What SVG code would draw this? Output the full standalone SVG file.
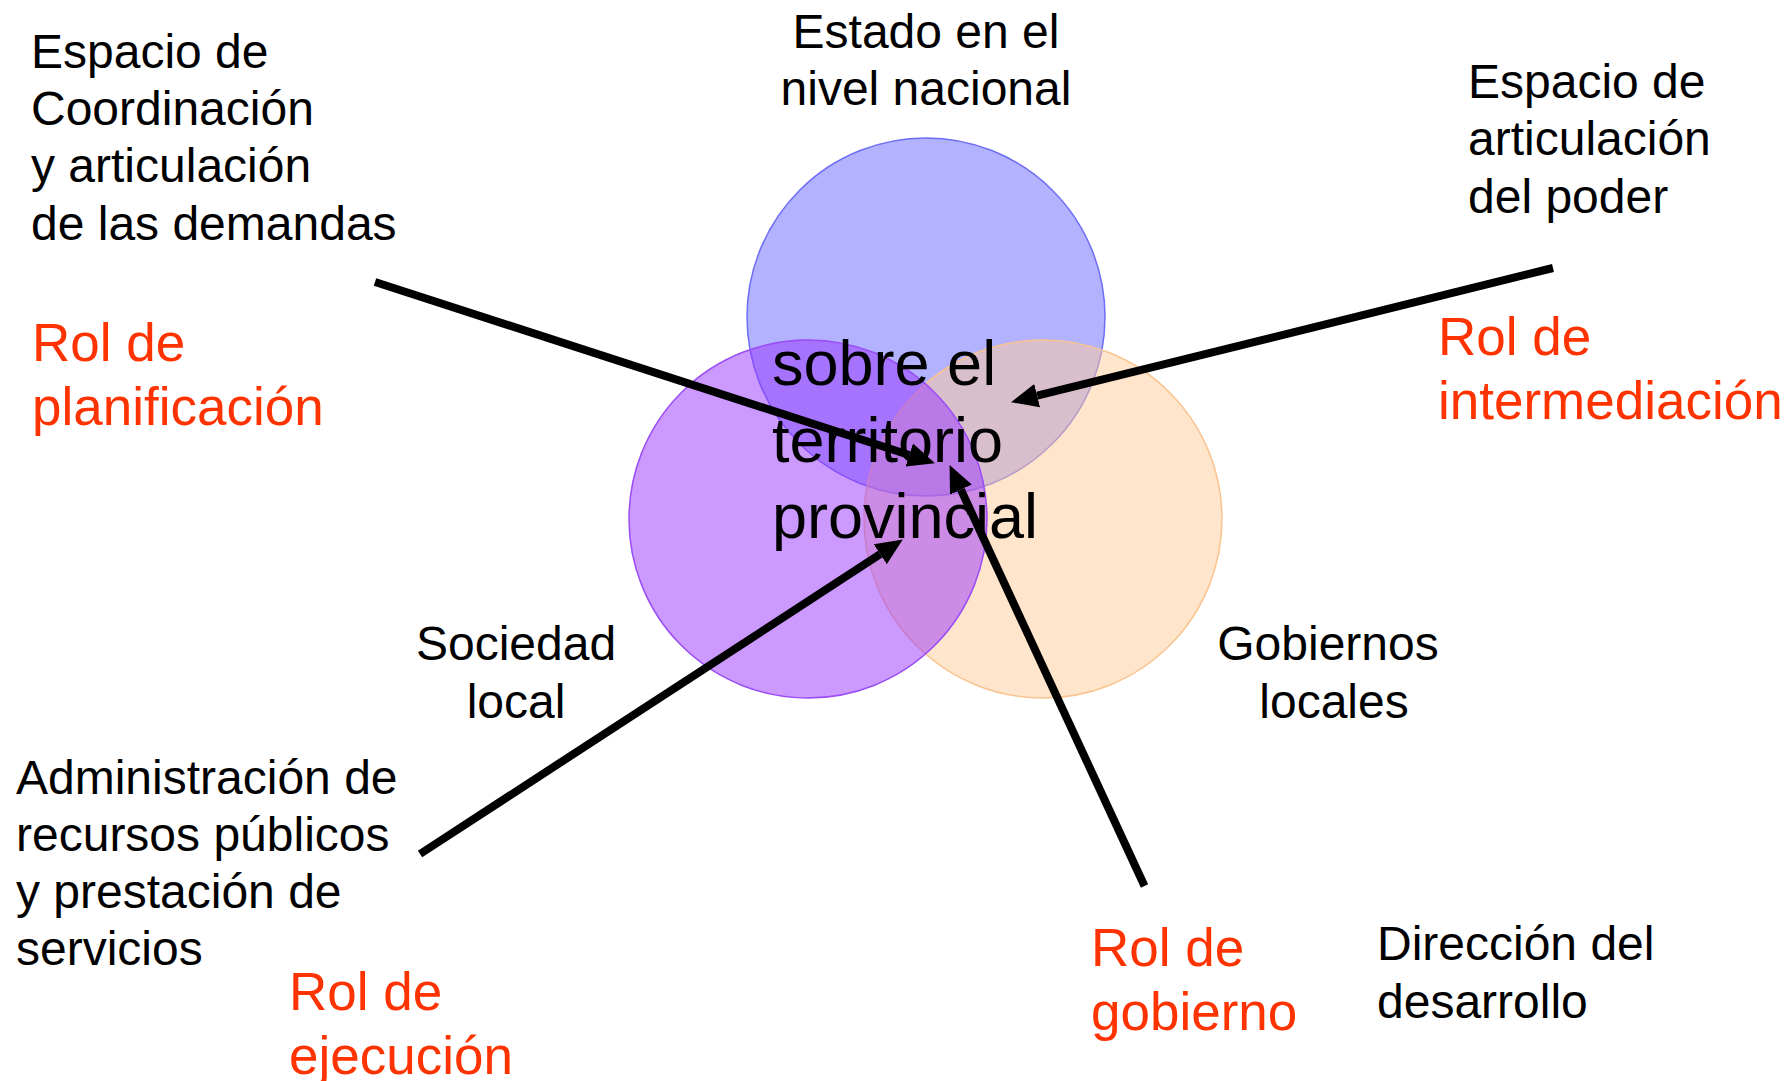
<svg xmlns="http://www.w3.org/2000/svg" width="1791" height="1081" viewBox="0 0 1791 1081">
<style>
text{font-family:"Liberation Sans",Arial,sans-serif;}
.lbl{font-size:48px;fill:#000;}
.rol{font-size:53px;fill:#ff3300;}
.ctr{font-size:63px;fill:#000;}
.conn{stroke:#000;stroke-width:8;fill:none;marker-end:url(#ah);}
</style>
<defs>
<marker id="ah" markerUnits="userSpaceOnUse" markerWidth="30" markerHeight="28" refX="0" refY="14" orient="auto" viewBox="0 0 30 28">
<path d="M0,2 L27,14 L0,26 z" fill="#000"/>
</marker>
</defs>
<rect width="1791" height="1081" fill="#fff"/>
<g id="circle-estado">
<circle cx="926" cy="317" r="179" fill="#6666ff" fill-opacity="0.5" stroke="#6e6ef5" stroke-width="1.5"/>
</g>
<g id="circle-gobiernos">
<circle cx="1043" cy="519" r="179" fill="#ffcc99" fill-opacity="0.5" stroke="#f9c48f" stroke-width="1.5"/>
</g>
<g id="circle-sociedad">
<circle cx="808" cy="519" r="179" fill="#9933ff" fill-opacity="0.5" stroke="#9a4cf5" stroke-width="1.5"/>
</g>
<g id="center-text">
<text class="ctr" x="772" y="385">sobre el</text>
<text class="ctr" x="772" y="462">territorio</text>
<text class="ctr" x="772" y="538">provincial</text>
</g>
<g id="label-estado">
<text class="lbl" x="926" y="48" text-anchor="middle">Estado en el</text>
<text class="lbl" x="926" y="105" text-anchor="middle">nivel nacional</text>
</g>
<g id="label-coordinacion">
<text class="lbl" x="31" y="68">Espacio de</text>
<text class="lbl" x="31" y="125">Coordinación</text>
<text class="lbl" x="31" y="182">y articulación</text>
<text class="lbl" x="31" y="240">de las demandas</text>
</g>
<g id="rol-planificacion">
<text class="rol" x="32" y="361">Rol de</text>
<text class="rol" x="32" y="425">planificación</text>
</g>
<g id="label-articulacion">
<text class="lbl" x="1468" y="98">Espacio de</text>
<text class="lbl" x="1468" y="155">articulación</text>
<text class="lbl" x="1468" y="213">del poder</text>
</g>
<g id="rol-intermediacion">
<text class="rol" x="1438" y="355">Rol de</text>
<text class="rol" x="1438" y="419">intermediación</text>
</g>
<g id="label-sociedad">
<text class="lbl" x="516" y="660" text-anchor="middle">Sociedad</text>
<text class="lbl" x="516" y="718" text-anchor="middle">local</text>
</g>
<g id="label-gobiernos">
<text class="lbl" x="1328" y="660" text-anchor="middle">Gobiernos</text>
<text class="lbl" x="1334" y="718" text-anchor="middle">locales</text>
</g>
<g id="label-administracion">
<text class="lbl" x="16" y="794">Administración de</text>
<text class="lbl" x="16" y="851">recursos públicos</text>
<text class="lbl" x="16" y="908">y prestación de</text>
<text class="lbl" x="16" y="965">servicios</text>
</g>
<g id="rol-ejecucion">
<text class="rol" x="289" y="1010">Rol de</text>
<text class="rol" x="289" y="1074">ejecución</text>
</g>
<g id="rol-gobierno">
<text class="rol" x="1091" y="966">Rol de</text>
<text class="rol" x="1091" y="1030">gobierno</text>
</g>
<g id="label-direccion">
<text class="lbl" x="1377" y="960">Dirección del</text>
<text class="lbl" x="1377" y="1018">desarrollo</text>
</g>
<g id="connectors">
<path class="conn" d="M375,282 L909.3,455"/>
<path class="conn" d="M1553,268 L1037.2,395.7"/>
<path class="conn" d="M420,854 L880.2,554.2"/>
<path class="conn" d="M1144.5,886 L960.9,489.6"/>
</g>
</svg>
